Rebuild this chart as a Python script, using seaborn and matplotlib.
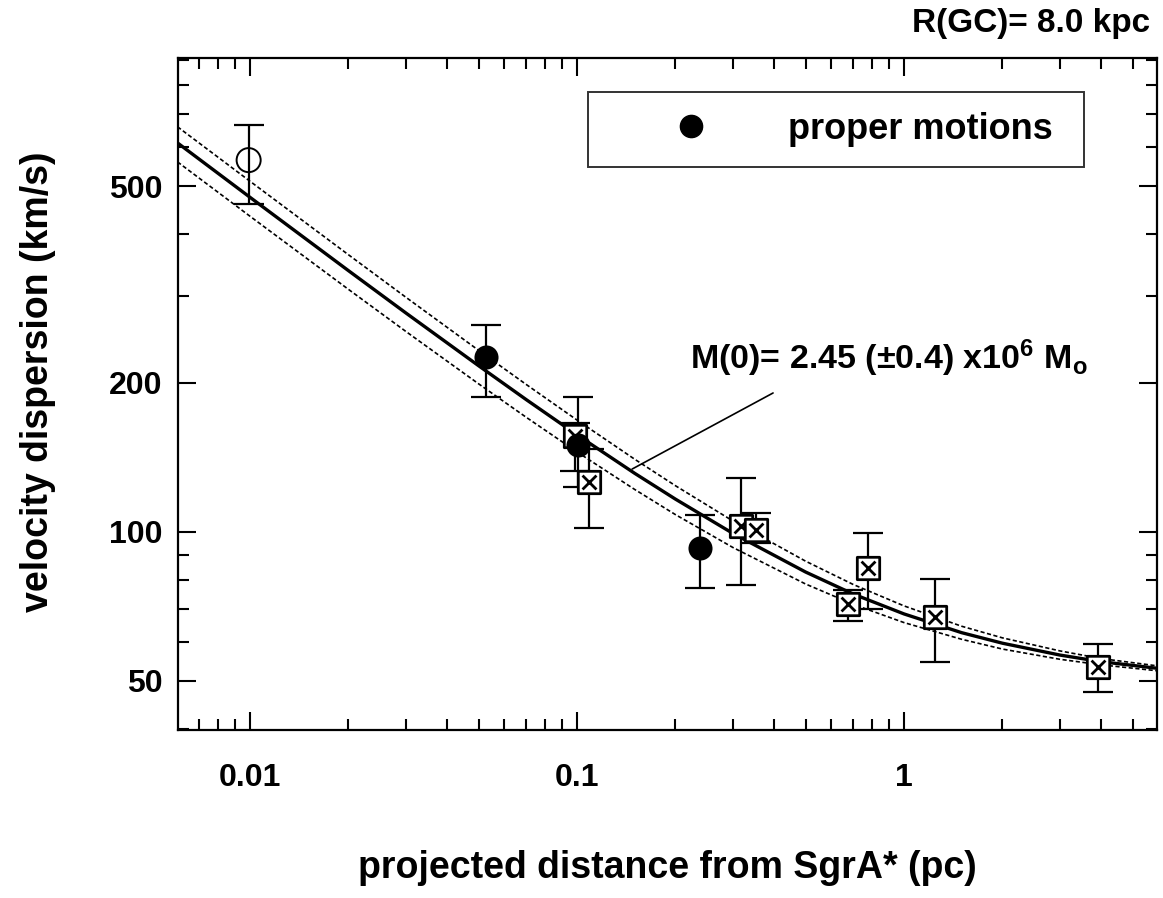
import numpy as np
import matplotlib
matplotlib.use("Agg")
import matplotlib.pyplot as plt
from matplotlib.path import Path
from matplotlib.lines import Line2D
from matplotlib.ticker import FixedLocator, LogLocator, NullFormatter, FuncFormatter
import seaborn as sns

# ---- data -----------------------------------------------------------------
# open circle (radial-velocity point)
open_r = [0.0099]
open_v = [564.0]
open_lo = [460.0]
open_hi = [664.0]

# filled circles: proper motions
pm_r = [0.0527, 0.101, 0.238]
pm_v = [226.0, 150.0, 93.0]
pm_lo = [187.0, 123.0, 77.0]
pm_hi = [262.0, 187.0, 108.0]

# crossed squares
sq_r = [0.0986, 0.109, 0.317, 0.353, 0.674, 0.776, 1.244, 3.92]
sq_v = [156.0, 126.0, 103.0, 101.0, 71.6, 84.6, 67.3, 53.3]
sq_lo = [133.0, 102.0, 78.0, 95.0, 66.1, 69.9, 54.6, 47.5]
sq_hi = [166.0, 147.0, 128.5, 109.0, 76.4, 99.5, 80.3, 59.4]

# model curves (best fit and +/- range)
model_r = [0.006, 0.01, 0.02, 0.03, 0.05, 0.07, 0.1, 0.15, 0.2, 0.3,
           0.5, 0.7, 1.0, 1.5, 2.0, 3.0, 4.0, 6.0]
model_best = [611.0, 474.3, 337.2, 276.8, 216.7, 185.0, 157.1, 131.4, 116.5,
              99.3, 83.0, 74.9, 68.3, 62.6, 59.6, 56.4, 54.7, 53.0]
model_high = [658.6, 511.1, 363.1, 297.8, 232.8, 198.5, 168.3, 140.3, 124.0,
              105.2, 87.3, 78.3, 70.9, 64.5, 61.1, 57.5, 55.5, 53.6]
model_low = [559.3, 434.3, 309.1, 254.0, 199.2, 170.4, 145.1, 121.9, 108.4,
             93.0, 78.5, 71.4, 65.6, 60.7, 58.0, 55.3, 53.9, 52.4]

x_ticks = [0.01, 0.1, 1]
x_ticklabels = ["0.01", "0.1", "1"]
y_ticks = [50, 100, 200, 500]
y_ticklabels = ["50", "100", "200", "500"]

# ---- style ----------------------------------------------------------------
sns.set_theme(style="ticks")
plt.rcParams["font.family"] = ["Liberation Sans", "DejaVu Sans"]
plt.rcParams["font.weight"] = "bold"
plt.rcParams["axes.labelweight"] = "bold"
plt.rcParams["text.color"] = "black"
plt.rcParams["axes.labelcolor"] = "black"
plt.rcParams["xtick.color"] = "black"
plt.rcParams["ytick.color"] = "black"
plt.rcParams["axes.edgecolor"] = "black"
plt.rcParams["mathtext.fontset"] = "custom"
plt.rcParams["mathtext.rm"] = "Liberation Sans:bold"
plt.rcParams["mathtext.bf"] = "Liberation Sans:bold"
plt.rcParams["mathtext.it"] = "Liberation Sans:bold"
plt.rcParams["mathtext.default"] = "rm"

fig = plt.figure(figsize=(11.63, 8.98), dpi=100)
fig.patch.set_facecolor("white")
ax = fig.add_axes([178 / 1163, 1 - 730 / 898, (1157 - 178) / 1163, (730 - 58) / 898])
ax.set_facecolor("white")
ax.set_xscale("log")
ax.set_yscale("log")
ax.set_xlim(0.00602, 5.94)
ax.set_ylim(39.8, 907)

# model curves
sns.lineplot(x=model_r, y=model_best, ax=ax, color="black", lw=2.4, sort=True)
sns.lineplot(x=model_r, y=model_high, ax=ax, color="black", lw=1.2,
             linestyle=(0, (2.5, 1.5)), sort=True)
sns.lineplot(x=model_r, y=model_low, ax=ax, color="black", lw=1.2,
             linestyle=(0, (2.5, 1.5)), sort=True)

# error bars
def draw_err(r, v, lo, hi, z):
    v = np.asarray(v)
    yerr = [v - np.asarray(lo), np.asarray(hi) - v]
    ax.errorbar(r, v, yerr=yerr, fmt="none", ecolor="black", elinewidth=1.6,
                capsize=11, capthick=1.6, zorder=z)

draw_err(sq_r, sq_v, sq_lo, sq_hi, 3)
draw_err(pm_r, pm_v, pm_lo, pm_hi, 3)
draw_err(open_r, open_v, open_lo, open_hi, 5)

# crossed-square marker
s = 0.62
crossed_square = Path(
    [(-1, -1), (1, -1), (1, 1), (-1, 1), (-1, -1),
     (-s, -s), (s, s), (-s, s), (s, -s)],
    [Path.MOVETO, Path.LINETO, Path.LINETO, Path.LINETO, Path.CLOSEPOLY,
     Path.MOVETO, Path.LINETO, Path.MOVETO, Path.LINETO],
)

sns.scatterplot(x=sq_r, y=sq_v, ax=ax, marker=crossed_square, s=260,
                facecolor="white", edgecolor="black", linewidth=2.0, zorder=4)
sns.scatterplot(x=pm_r, y=pm_v, ax=ax, marker="o", s=300,
                color="black", edgecolor="black", linewidth=0, zorder=6)
sns.scatterplot(x=open_r, y=open_v, ax=ax, marker="o", s=300,
                facecolor="none", edgecolor="black", linewidth=1.4, zorder=4)

# ticks
ax.xaxis.set_major_locator(FixedLocator(x_ticks))
ax.xaxis.set_major_formatter(FuncFormatter(lambda v, p: x_ticklabels[x_ticks.index(v)] if v in x_ticks else ""))
ax.xaxis.set_minor_locator(LogLocator(base=10, subs=np.arange(2, 10)))
ax.xaxis.set_minor_formatter(NullFormatter())
ax.yaxis.set_major_locator(FixedLocator(y_ticks))
ax.yaxis.set_major_formatter(FuncFormatter(lambda v, p: y_ticklabels[y_ticks.index(int(round(v)))] if int(round(v)) in y_ticks else ""))
ax.yaxis.set_minor_locator(LogLocator(base=10, subs=np.arange(2, 10)))
ax.yaxis.set_minor_formatter(NullFormatter())

ax.tick_params(which="both", direction="in", top=True, right=True, color="black",
               labelcolor="black", width=1.5)
ax.tick_params(which="major", length=13)
ax.tick_params(which="minor", length=8)
ax.tick_params(axis="x", which="major", labelsize=23, pad=24)
ax.tick_params(axis="y", which="major", labelsize=23, pad=11)
for lab in ax.get_xticklabels() + ax.get_yticklabels():
    lab.set_fontweight("bold")
for sp in ax.spines.values():
    sp.set_visible(True)
    sp.set_linewidth(1.6)
    sp.set_color("black")

# axis labels
ax.set_xlabel("projected distance from SgrA* (pc)", fontsize=27,
              fontweight="bold", va="center", color="black")
ax.xaxis.set_label_coords(0.5, -0.205)
ax.set_ylabel("velocity dispersion (km/s)", fontsize=27, fontweight="bold",
              va="center", color="black")
ax.yaxis.set_label_coords(-0.143, 0.518)

# legend
handle = Line2D([], [], marker="o", color="black", linestyle="none",
                markersize=16)
leg = ax.legend([handle], ["proper motions"], loc="upper left",
                bbox_to_anchor=(0.419, 0.823, 0.506, 0.126), mode="expand",
                borderaxespad=0, fancybox=False, frameon=True,
                prop={"size": 26, "weight": "bold"}, borderpad=0.55,
                handlelength=4.6, handletextpad=0.37)
leg.get_frame().set_edgecolor("black")
leg.get_frame().set_linewidth(1.4)
for t in leg.get_texts():
    t.set_color("black")

# mass annotation
ax.plot([0.3977, 0.1474], [190.9, 134.0], color="black", lw=1.2)
ax.text(0.2214, 213.3, "M(0)= 2.45 (±0.4) x10$^{6}$ M$_{o}$", fontsize=24.5,
        fontweight="bold", ha="left", va="baseline", color="black")

fig.text(1150 / 1163, 1 - 8 / 898, "R(GC)= 8.0 kpc", fontsize=24,
         fontweight="bold", ha="right", va="top", color="black")

fig.savefig("out.png", dpi=100, facecolor="white")
